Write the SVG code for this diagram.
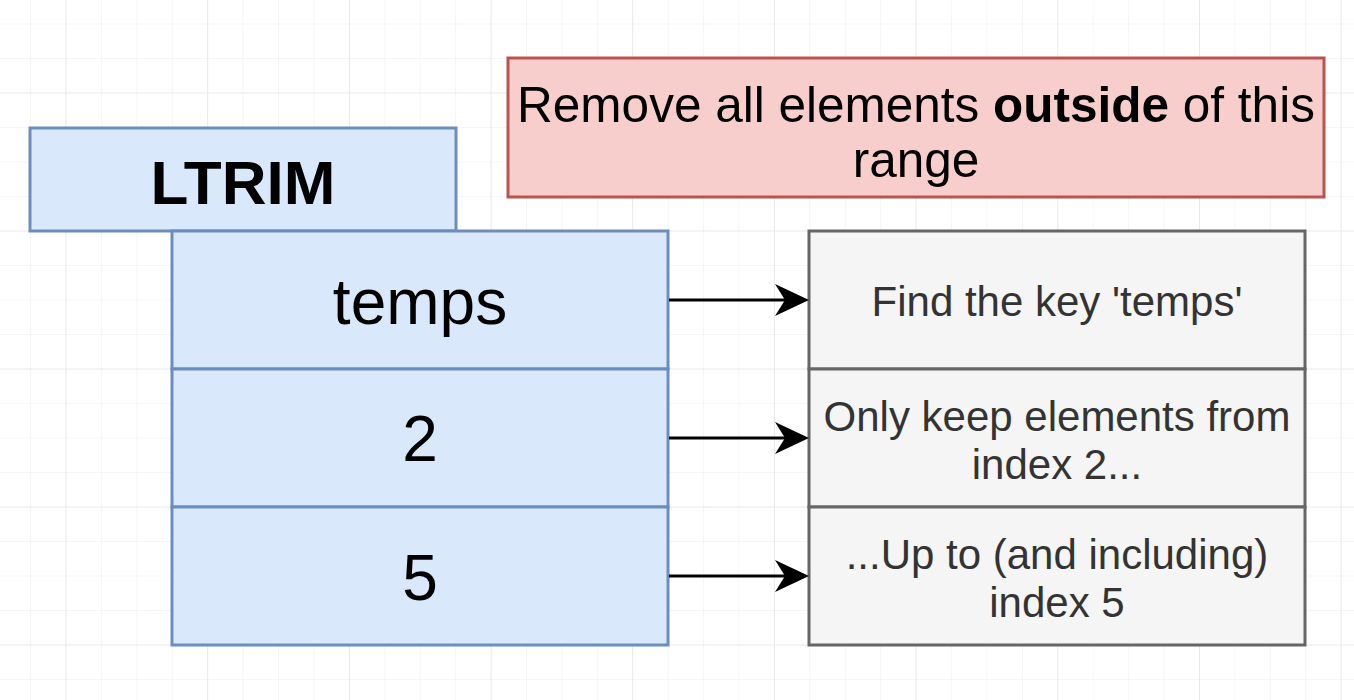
<svg xmlns="http://www.w3.org/2000/svg" width="1354" height="700" viewBox="0 0 1354 700">
<style>
.minor{stroke:#f5f5f5;stroke-width:1;fill:none}
.major{stroke:#e8e8e8;stroke-width:1;fill:none}
.blue{fill:#dae8fc;stroke:#6c8ebf;stroke-width:3}
.grey{fill:#f5f5f5;stroke:#666666;stroke-width:3}
.red{fill:#f8cecc;stroke:#b85450;stroke-width:3}
text{font-family:"Liberation Sans",Arial,Helvetica,sans-serif;text-anchor:middle}
.big{font-size:64px;fill:#000}
.title{font-size:62px;font-weight:bold;fill:#000}
.desc{font-size:42px;fill:#333333}
.note{font-size:49.5px;fill:#000}
.conn{stroke:#000;stroke-width:3;fill:none;marker-end:url(#arrow)}
</style>
<defs>
<marker id="arrow" viewBox="0 0 34 32" refX="15" refY="16" markerWidth="34" markerHeight="32" markerUnits="userSpaceOnUse" orient="auto">
<path d="M0,0 L34,16 L0,32 L10,16 Z" fill="#000"/>
</marker>
</defs>
<rect x="0" y="0" width="1354" height="700" fill="#ffffff"/>
<g id="grid">
<path class="minor" d="M30.6,0V700M101.4,0V700M136.9,0V700M172.3,0V700M243.1,0V700M278.5,0V700M314,0V700M384.8,0V700M420.2,0V700M455.6,0V700M526.5,0V700M561.9,0V700M597.3,0V700M668.2,0V700M703.6,0V700M739,0V700M809.8,0V700M845.3,0V700M880.7,0V700M951.5,0V700M986.9,0V700M1022.4,0V700M1093.2,0V700M1128.6,0V700M1164,0V700M1234.9,0V700M1270.3,0V700M1305.7,0V700M0,24H1354M0,58.5H1354M0,127.5H1354M0,162H1354M0,196.5H1354M0,265.5H1354M0,300H1354M0,334.5H1354M0,403.5H1354M0,438H1354M0,472.5H1354M0,541.5H1354M0,576H1354M0,610.5H1354M0,679.5H1354"/>
<path class="major" d="M66,0V700M207.7,0V700M349.4,0V700M491.1,0V700M632.7,0V700M774.4,0V700M916.1,0V700M1057.8,0V700M1199.5,0V700M1341.1,0V700M0,93H1354M0,231H1354M0,369H1354M0,507H1354M0,645H1354"/>
</g>
<g id="note">
<rect class="red" x="508" y="58" width="816" height="139"/>
<text class="note" x="916" y="122">Remove all elements <tspan font-weight="bold">outside</tspan> of this</text>
<text class="note" x="916" y="177">range</text>
</g>
<g id="ltrim">
<rect class="blue" x="30" y="128" width="426" height="103"/>
<text class="title" x="243" y="204">LTRIM</text>
</g>
<g id="arg-temps">
<rect class="blue" x="172" y="231" width="496" height="138"/>
<text class="big" x="420" y="324">temps</text>
</g>
<g id="arg-2">
<rect class="blue" x="172" y="369" width="496" height="138"/>
<text class="big" x="420" y="461">2</text>
</g>
<g id="arg-5">
<rect class="blue" x="172" y="507" width="496" height="138"/>
<text class="big" x="420" y="600">5</text>
</g>
<g id="desc-key">
<rect class="grey" x="809" y="231" width="496" height="138"/>
<text class="desc" x="1057" y="316">Find the key 'temps'</text>
</g>
<g id="desc-start">
<rect class="grey" x="809" y="369" width="496" height="138"/>
<text class="desc" x="1057" y="431">Only keep elements from</text>
<text class="desc" x="1057" y="479">index 2...</text>
</g>
<g id="desc-stop">
<rect class="grey" x="809" y="507" width="496" height="138"/>
<text class="desc" x="1057" y="569">...Up to (and including)</text>
<text class="desc" x="1057" y="617">index 5</text>
</g>
<g id="connectors">
<path class="conn" d="M669,300H790"/>
<path class="conn" d="M669,438H790"/>
<path class="conn" d="M669,576H790"/>
</g>
</svg>
